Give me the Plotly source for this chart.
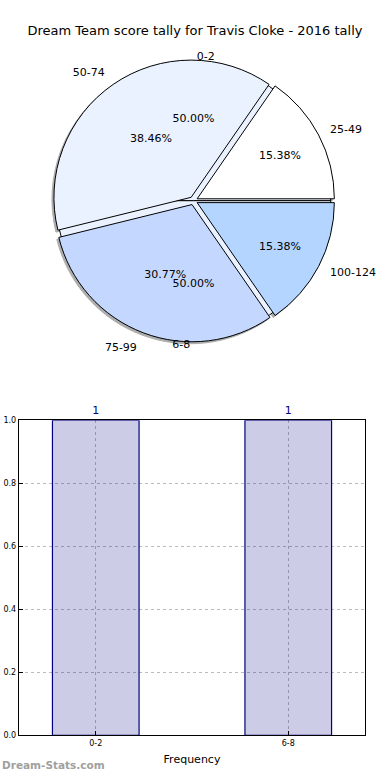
import plotly.graph_objects as go

title = "Dream Team score tally for Travis Cloke - 2016 tally"

# Outer pie: score ranges
score_labels = ["25-49", "50-74", "75-99", "100-124"]
score_counts = [2, 5, 4, 2]
score_colors = ["#ffffff", "#ebf2ff", "#c4d8ff", "#b3d5ff"]

# Inner pie: frequency ranges
freq_labels = ["0-2", "6-8"]
freq_counts = [1, 1]

# Bar chart
bar_cats = ["0-2", "6-8"]
bar_vals = [1, 1]
y_ticks = [0.0, 0.2, 0.4, 0.6, 0.8, 1.0]

W, H = 390, 780
pull = 0.03
cx, cy, r = 196, 199, 139

def dom(rad, p, dx=0, dy=0):
    half = rad * (1 + p)
    return dict(x=[(cx + dx - half) / W, (cx + dx + half) / W],
                y=[1 - (cy + dy + half) / H, 1 - (cy + dy - half) / H])

# first slice must start at 3 o'clock going counterclockwise
rot_outer = 90 - 360 * score_counts[0] / sum(score_counts)
rot_inner = 90 - 360 * freq_counts[0] / sum(freq_counts)

font = "DejaVu Sans"
fig = go.Figure()

# shadow of the pie
fig.add_trace(go.Pie(labels=score_labels, values=score_counts, sort=False,
                     direction="counterclockwise", rotation=rot_outer, pull=[pull] * 4,
                     marker=dict(colors=["#777777"] * 4, line=dict(color="#777777", width=1)),
                     textinfo="none", domain=dom(r, pull, -2, 2), showlegend=False,
                     hoverinfo="skip", opacity=0.6))
# inner pie (underneath)
fig.add_trace(go.Pie(labels=freq_labels, values=freq_counts, sort=False,
                     direction="counterclockwise", rotation=rot_inner,
                     marker=dict(colors=["#ebf2ff", "#ebf2ff"], line=dict(color="black", width=1)),
                     textinfo="none", domain=dom(r, 0), showlegend=False, hoverinfo="skip"))
# outer pie with percentages inside
fig.add_trace(go.Pie(labels=score_labels, values=score_counts, sort=False,
                     direction="counterclockwise", rotation=rot_outer, pull=[pull] * 4,
                     marker=dict(colors=score_colors, line=dict(color="black", width=1)),
                     texttemplate="%{percent:.2%}", textposition="inside",
                     insidetextorientation="horizontal",
                     textfont=dict(family=font, size=11, color="black"),
                     domain=dom(r, pull), showlegend=False))
# outer labels (transparent)
fig.add_trace(go.Pie(labels=score_labels, values=score_counts, sort=False,
                     direction="counterclockwise", rotation=rot_outer, pull=[pull] * 4,
                     marker=dict(colors=["rgba(0,0,0,0)"] * 4, line=dict(width=0)),
                     textinfo="label", textposition="outside",
                     textfont=dict(family=font, size=11, color="black"),
                     domain=dom(r + 9, pull), showlegend=False, hoverinfo="skip"))
# inner percentages (transparent)
fig.add_trace(go.Pie(labels=freq_labels, values=freq_counts, sort=False,
                     direction="counterclockwise", rotation=rot_inner,
                     marker=dict(colors=["rgba(0,0,0,0)"] * 2, line=dict(width=0)),
                     texttemplate="%{percent:.2%}", textposition="inside",
                     insidetextorientation="horizontal",
                     textfont=dict(family=font, size=11, color="black"),
                     domain=dom(r * 1.2, 0), showlegend=False, hoverinfo="skip"))
# inner labels (transparent)
fig.add_trace(go.Pie(labels=freq_labels, values=freq_counts, sort=False,
                     direction="counterclockwise", rotation=rot_inner,
                     marker=dict(colors=["rgba(0,0,0,0)"] * 2, line=dict(width=0)),
                     textinfo="label", textposition="outside",
                     textfont=dict(family=font, size=11, color="black"),
                     domain=dom(r, 0), showlegend=False, hoverinfo="skip"))

# bar chart
fig.add_trace(go.Bar(x=list(range(len(bar_cats))), y=bar_vals, width=0.45,
                     marker=dict(color="rgba(0,0,128,0.2)", line=dict(color="navy", width=1.2)),
                     text=[str(v) for v in bar_vals], textposition="outside",
                     textfont=dict(family=font, size=11, color="navy"),
                     cliponaxis=False, showlegend=False, xaxis="x", yaxis="y"))

fig.update_layout(
    width=W, height=H, margin=dict(l=0, r=0, t=0, b=0),
    paper_bgcolor="white", plot_bgcolor="white",
    font=dict(family=font, color="black"),
    title=dict(text=title, x=195 / W, xanchor="center", y=1 - 30 / H,
               yanchor="middle", font=dict(size=13, family=font)),
    xaxis=dict(domain=[19 / W, 370 / W], range=[-0.4, 1.4],
               tickvals=list(range(len(bar_cats))), ticktext=bar_cats,
               tickfont=dict(size=8), showline=True, mirror=True, linecolor="black",
               linewidth=1, showgrid=True, gridcolor="#bbbbbb", griddash="dot",
               ticks="inside", ticklen=4, tickcolor="black", zeroline=False,
               title=dict(text="Frequency", font=dict(size=11), standoff=8)),
    yaxis=dict(domain=[1 - 740 / H, 1 - 421 / H], range=[0, 1],
               tickvals=y_ticks, tickformat=".1f", tickfont=dict(size=8),
               showline=True, mirror=True, linecolor="black", linewidth=1,
               showgrid=True, gridcolor="#bbbbbb", griddash="dot",
               ticks="inside", ticklen=4, tickcolor="black", zeroline=False),
    annotations=[dict(text="<b>Dream-Stats.com</b>", x=0, y=10 / H,
                      xref="paper", yref="paper",
                      xanchor="left", yanchor="middle", showarrow=False,
                      font=dict(size=10.5, color="#a0a0a0", family=font))],
)

fig.write_html("out.html", config={"displayModeBar": False},
               post_script="document.body.style.margin='0';")
